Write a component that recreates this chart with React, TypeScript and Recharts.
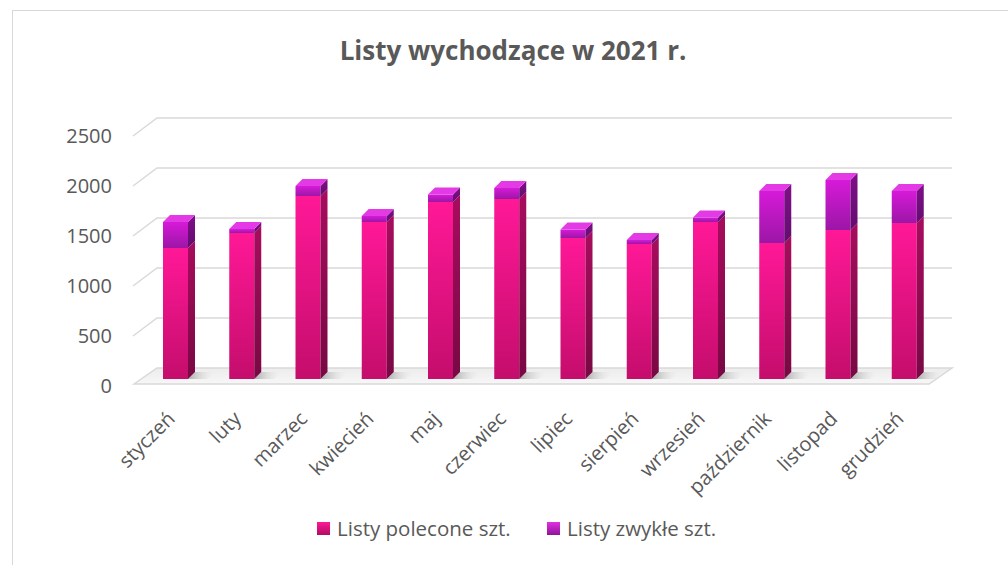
import React from 'react';
import { BarChart, Bar, XAxis, YAxis, CartesianGrid } from 'recharts';

const months = ['styczeń', 'luty', 'marzec', 'kwiecień', 'maj', 'czerwiec', 'lipiec', 'sierpień', 'wrzesień', 'październik', 'listopad', 'grudzień'];
const polecone = [1310, 1460, 1830, 1570, 1770, 1800, 1410, 1350, 1570, 1360, 1490, 1560];
const zwykle = [260, 40, 100, 60, 75, 110, 85, 40, 45, 520, 500, 320];
const yTicks = [0, 500, 1000, 1500, 2000, 2500];

const seriesNames = ['Listy polecone szt.', 'Listy zwykłe szt.'];

const data = months.map((m, i) => ({ month: m, polecone: polecone[i], zwykle: zwykle[i] }));

const FONT = '"Open Sans", sans-serif';
const TEXT = '#595959';
const DEPTH = 7;

// front face + right side face + shadow on the floor
const PinkBar = (props: any) => {
  const { x, y, width, height } = props;
  if (!height || height <= 0) return null;
  const d = DEPTH;
  const r = x + width;
  const b = y + height;
  return (
    <g>
      <polygon points={`${r - d},${b} ${r},${b - d} ${r + 24},${b - d} ${r + 12},${b}`} fill="url(#shadow)" />
      <rect x={x} y={y} width={width - d} height={height} fill="url(#pinkFront)" />
      <polygon points={`${r - d},${y} ${r},${y - d} ${r},${b - d} ${r - d},${b}`} fill="url(#pinkSide)" />
    </g>
  );
};

// same, plus the lighter top face
const PurpleBar = (props: any) => {
  const { x, y, width, height } = props;
  if (height == null || height < 0) return null;
  const d = DEPTH;
  const r = x + width;
  return (
    <g>
      <rect x={x} y={y} width={width - d} height={height} fill="url(#purpleFront)" />
      <polygon points={`${r - d},${y} ${r},${y - d} ${r},${y + height - d} ${r - d},${y + height}`} fill="url(#purpleSide)" />
      <polygon points={`${x},${y} ${x + d},${y - d} ${r},${y - d} ${r - d},${y}`} fill="#e43ae6" />
    </g>
  );
};

const GridLine = (props: any) => {
  const { x1, x2, y1 } = props;
  const y = y1;
  if (Math.abs(y - 379) < 2) {
    return (
      <g key={props.key}>
        <polygon
          points={`${x1 - 12},${y + 5} ${x1 + 11},${y - 11} ${x2 + 11},${y - 11} ${x2 - 12},${y + 5}`}
          fill="url(#floor)"
          stroke="#d9d9d9"
          strokeWidth={1.5}
        />
      </g>
    );
  }
  return (
    <polyline
      key={props.key}
      points={`${x1 - 13},${y + 7} ${x1 + 11},${y - 11} ${x2 + 11},${y - 11}`}
      fill="none"
      stroke="#d9d9d9"
      strokeWidth={1.5}
    />
  );
};

const YTick = ({ x, y, payload }: any) => (
  <text x={x - 34} y={y + 7} dy="0.35em" textAnchor="end" fill={TEXT} style={{ fontSize: 20, fontFamily: FONT }}>
    {payload.value}
  </text>
);

const XTick = ({ x, y, payload }: any) => (
  <g transform={`translate(${x - 3},${y + 41})`}>
    <text x={0} y={0} textAnchor="end" fill={TEXT} transform="rotate(-45)" style={{ fontSize: 20, fontFamily: FONT }}>
      {payload.value}
    </text>
  </g>
);

const LegendBox = ({ left, colors, label }: { left: number; colors: string[]; label: string }) => (
  <div style={{ position: 'absolute', left, top: 518, display: 'flex', alignItems: 'center', height: 20 }}>
    <div style={{ width: 13, height: 13, background: `linear-gradient(${colors[0]}, ${colors[1]})`, marginRight: 7 }} />
    <span style={{ fontSize: 20.5, lineHeight: '20px', color: TEXT, fontFamily: FONT, whiteSpace: 'nowrap' }}>{label}</span>
  </div>
);

export default function App() {
  return (
    <div style={{ position: 'absolute', left: 0, top: 0, width: 1008, height: 565, overflow: 'hidden', background: '#fff' }}>
      <div style={{ position: 'absolute', left: 12, top: 10, width: 1100, height: 700, border: '1.5px solid #d9d9d9' }} />
      <div
        style={{
          position: 'absolute', left: 0, width: 1026, top: 37, textAlign: 'center',
          fontFamily: FONT, fontWeight: 700, fontSize: 26, lineHeight: '26px', color: TEXT,
        }}
      >
        Listy wychodzące w 2021 r.
      </div>
      <div style={{ position: 'absolute', left: 0, top: 0 }}>
        <BarChart
          width={1008}
          height={565}
          data={data}
          margin={{ top: 129, right: 67, left: 86, bottom: 86 }}
          style={{ fontFamily: FONT }}
        >
          <defs>
            <linearGradient id="pinkFront" x1="0" y1="0" x2="0" y2="1">
              <stop offset="0%" stopColor="#ff1897" />
              <stop offset="100%" stopColor="#c40d6c" />
            </linearGradient>
            <linearGradient id="pinkSide" x1="0" y1="0" x2="0" y2="1">
              <stop offset="0%" stopColor="#a80c5e" />
              <stop offset="100%" stopColor="#780843" />
            </linearGradient>
            <linearGradient id="purpleFront" x1="0" y1="0" x2="0" y2="1">
              <stop offset="0%" stopColor="#d61ad8" />
              <stop offset="100%" stopColor="#9c16a6" />
            </linearGradient>
            <linearGradient id="purpleSide" x1="0" y1="0" x2="0" y2="1">
              <stop offset="0%" stopColor="#7e1088" />
              <stop offset="100%" stopColor="#640c70" />
            </linearGradient>
            <linearGradient id="floor" x1="0" y1="0" x2="0" y2="1">
              <stop offset="0%" stopColor="#ececec" />
              <stop offset="100%" stopColor="#f7f7f7" />
            </linearGradient>
            <linearGradient id="shadow" x1="0" y1="0" x2="1" y2="0">
              <stop offset="0%" stopColor="#9a9a9a" stopOpacity={0.8} />
              <stop offset="100%" stopColor="#ffffff" stopOpacity={0} />
            </linearGradient>
          </defs>
          <CartesianGrid vertical={false} horizontal={GridLine} />
          <XAxis
            dataKey="month"
            interval={0}
            axisLine={false}
            tickLine={false}
            tickSize={0}
            tickMargin={0}
            height={100}
            tick={<XTick />}
          />
          <YAxis
            domain={[0, 2500]}
            ticks={yTicks}
            axisLine={false}
            tickLine={false}
            tickSize={0}
            tickMargin={0}
            width={60}
            tick={<YTick />}
          />
          <Bar dataKey="polecone" name={seriesNames[0]} stackId="a" barSize={32} shape={<PinkBar />} isAnimationActive={false} />
          <Bar dataKey="zwykle" name={seriesNames[1]} stackId="a" barSize={32} shape={<PurpleBar />} isAnimationActive={false} />
        </BarChart>
      </div>
      <LegendBox left={317} colors={['#ff1897', '#b00c62']} label={seriesNames[0]} />
      <LegendBox left={547} colors={['#e030e2', '#8e1498']} label={seriesNames[1]} />
    </div>
  );
}
